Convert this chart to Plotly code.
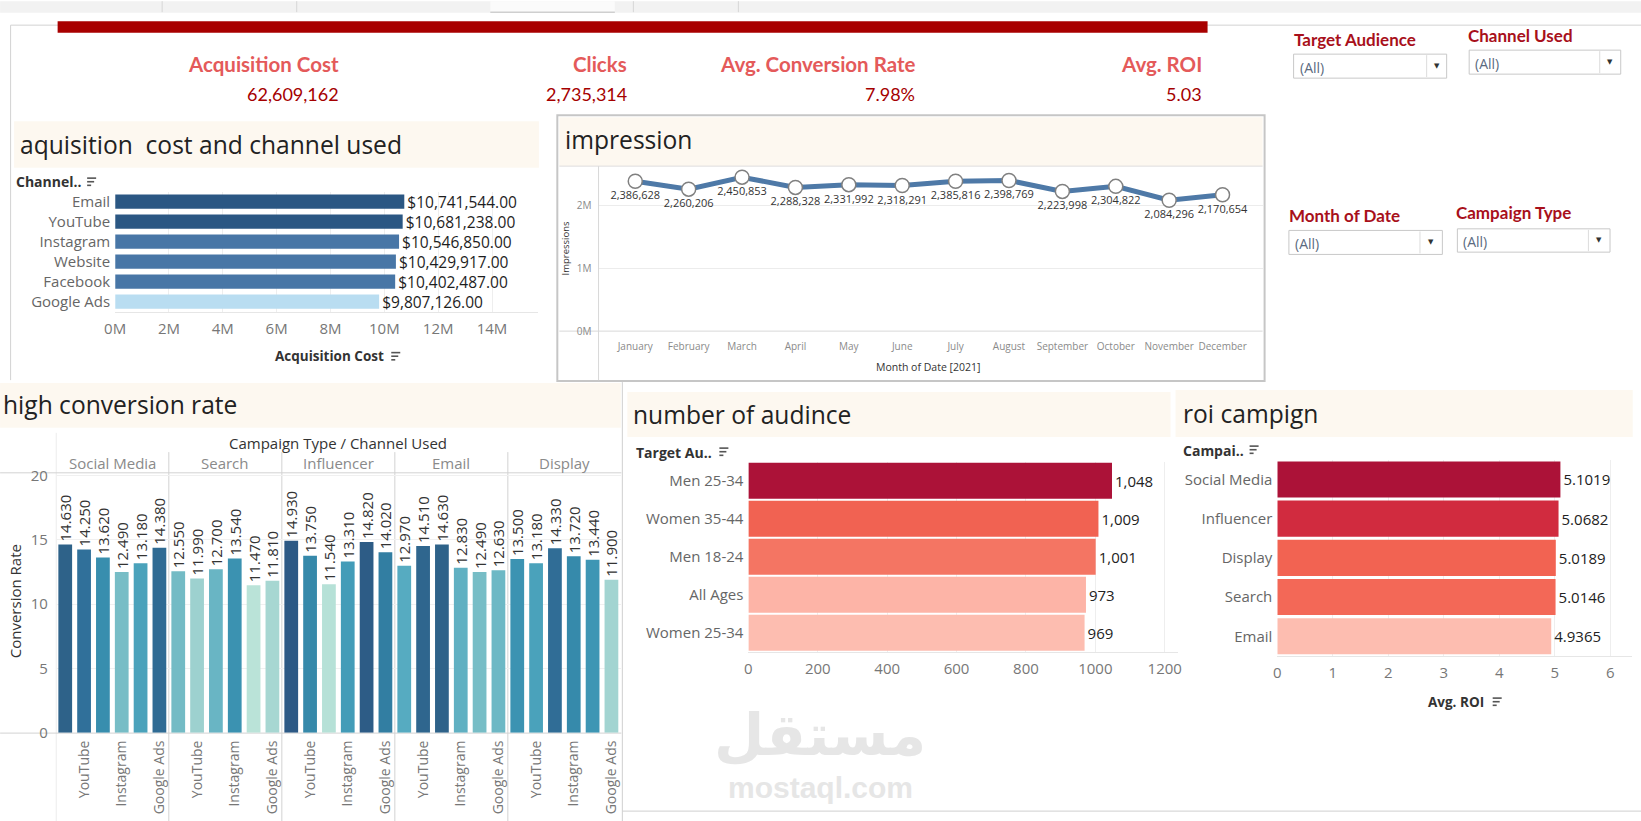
import plotly.graph_objects as go

# target canvas (reference pixels)
W, H = 1641, 821
# measured page transform of the viewer: screen = S * (O + figure_px)
SX, SY = 0.9905, 0.9796
OXF, OYF = 11.0, 7.0
FW, FH = 1646, 831

# ---------------- data ----------------
kpi_titles = ["Acquisition Cost", "Clicks", "Avg. Conversion Rate", "Avg. ROI"]
kpi_values = ["62,609,162", "2,735,314", "7.98%", "5.03"]

filter_labels = ["Target Audience", "Channel Used", "Month of Date", "Campaign Type"]
filter_values = ["(All)", "(All)", "(All)", "(All)"]

channels = ["Email", "YouTube", "Instagram", "Website", "Facebook", "Google Ads"]
acq_cost = [10741544, 10681238, 10546850, 10429917, 10402487, 9807126]
acq_ticks = [0, 2e6, 4e6, 6e6, 8e6, 10e6, 12e6, 14e6]
acq_tick_labels = ["0M", "2M", "4M", "6M", "8M", "10M", "12M", "14M"]

months = ["January", "February", "March", "April", "May", "June", "July",
          "August", "September", "October", "November", "December"]
impressions = [2386628, 2260206, 2450853, 2288328, 2331992, 2318291,
               2385816, 2398769, 2223998, 2304822, 2084296, 2170654]
imp_ticks = [0, 1e6, 2e6]
imp_tick_labels = ["0M", "1M", "2M"]

campaigns = ["Social Media", "Search", "Influencer", "Email", "Display"]
conv_channels = ["Email", "YouTube", "Facebook", "Instagram", "Website", "Google Ads"]
conv_social = [14.630, 14.250, 13.620, 12.490, 13.180, 14.380]
conv_search = [12.550, 11.990, 12.700, 13.540, 11.470, 11.810]
conv_influencer = [14.930, 13.750, 11.540, 13.310, 14.820, 14.020]
conv_email = [12.970, 14.510, 14.630, 12.830, 12.490, 12.630]
conv_display = [13.500, 13.180, 14.330, 13.720, 13.440, 11.900]
conv_shown_labels = {1: "YouTube", 3: "Instagram", 5: "Google Ads"}

audiences = ["Men 25-34", "Women 35-44", "Men 18-24", "All Ages", "Women 25-34"]
audience_counts = [1048, 1009, 1001, 973, 969]

roi_campaigns = ["Social Media", "Influencer", "Display", "Search", "Email"]
roi_values = [5.1019, 5.0682, 5.0189, 5.0146, 4.9365]

# ---------------- helpers ----------------
FONT = "Open Sans"
KFONT = "Lato"
GRAY = "#777777"
DARK = "#333333"
CREAM = "#fdf8f0"


def X(p):
    return (p / SX - OXF) / FW


def Y(p):
    return 1 - (p / SY - OYF) / FH


shapes = []
anns = []


def rect(x0, y0, x1, y1, fill=None, line=None, lw=1, layer="below"):
    shapes.append(dict(type="rect", xref="paper", yref="paper",
                       x0=X(x0), x1=X(x1), y0=Y(y0), y1=Y(y1),
                       fillcolor=fill if fill else "rgba(0,0,0,0)",
                       line=dict(color=line if line else "rgba(0,0,0,0)", width=lw if line else 0),
                       layer=layer))


def hline(x0, x1, y, color="#d4d4d4", lw=1, layer="below"):
    shapes.append(dict(type="line", xref="paper", yref="paper",
                       x0=X(x0), x1=X(x1), y0=Y(y), y1=Y(y),
                       line=dict(color=color, width=lw), layer=layer))


def vline(x, y0, y1, color="#d4d4d4", lw=1, layer="below", xref="paper"):
    shapes.append(dict(type="line", xref=xref, yref="paper",
                       x0=X(x) if xref == "paper" else x, x1=X(x) if xref == "paper" else x,
                       y0=Y(y0), y1=Y(y1),
                       line=dict(color=color, width=lw), layer=layer))


def text(t, x, y, size, color=DARK, anchor="left", weight="normal", family=FONT,
         angle=0, xref="paper"):
    anns.append(dict(text=t, x=X(x) if xref == "paper" else x, y=Y(y),
                     xref=xref, yref="paper", showarrow=False,
                     xanchor=anchor, yanchor="middle", textangle=angle,
                     font=dict(family=family, size=size, color=color, weight=weight)))


def sort_icon(x, y):
    for i, L in enumerate([9, 7, 4]):
        hline(x, x + L, y + i * 3.6, color="#555555", lw=1.6, layer="above")


# ---------------- background decorations ----------------
rect(0, 0, W, 11.7, fill="#f2f2f2")
rect(490, 0, 614.5, 11.7, fill="#fbfbfb")
hline(490, 614.5, 11, color="#cfcfcf", lw=1.5)
for xx in [162, 296.5, 633, 738]:
    vline(xx, 0, 11, color="#d6d6d6")

hline(10.5, W, 24, color="#d2d2d2")
vline(10.5, 24, 379, color="#d2d2d2")
rect(57.5, 20, 1207, 31.5, fill="#a80000")

# title bands
rect(14, 120, 538.6, 166.7, fill=CREAM)
rect(559, 116, 1262, 165, fill=CREAM)
rect(0, 382, 620.5, 426.7, fill=CREAM)
rect(627, 391, 1170, 436, fill=CREAM)
rect(1175, 389, 1632, 436, fill=CREAM)

# impression box
rect(557, 114, 1264, 380, line="#c6c6c6", lw=2)
hline(559, 1262, 165, color="#dedede")
vline(598.2, 165, 379, color="#d8d8d8")
hline(559, 1262, 330, color="#d8d8d8")

# conversion panel lines
hline(0, 621, 471.7, color="#d2d2d2")
hline(0, 621, 732, color="#d2d2d2")
vline(-0.5, 431.7, 821, color="#d2d2d2", xref="x3")
for k in range(1, 5):
    vline(k * 6 - 0.5, 451, 821, color="#d2d2d2", xref="x3")

# bottom-right borders
vline(622, 381, 821, color="#cfcfcf")
hline(622, W, 810, color="#cfcfcf")

# ---------------- KPI ----------------
kpi_x = [341, 629, 917, 1203]
for t, v, xx in zip(kpi_titles, kpi_values, kpi_x):
    text(t, xx, 63, 20.5, color="#e45a5a", anchor="right", weight="bold", family=KFONT)
    text(v, xx, 93, 18, color="#a50000", anchor="right", family=KFONT)

# ---------------- filters ----------------
filter_pos = [  # label x, label y, box x0, y0, x1, y1, divider
    (1291, 38, 1293, 53, 1446, 77, 1426),
    (1465, 34, 1468.5, 49, 1620, 73, 1599),
    (1286, 214, 1288.3, 229.3, 1441.7, 253.3, 1419.3),
    (1453, 211.7, 1456.7, 227.7, 1609.3, 251, 1587.7),
]
for lab, val, (lx, ly, bx0, by0, bx1, by1, dv) in zip(filter_labels, filter_values, filter_pos):
    text(lab, lx, ly, 17, color="#a8101b", weight="bold", family=KFONT)
    rect(bx0, by0, bx1, by1, fill="white", line="#c8c8c8", lw=1)
    vline(dv, by0 + 1, by1 - 1, color="#dcdcdc")
    text(val, bx0 + 4, (by0 + by1) / 2 + 1, 14, color="#5b6a80", family=FONT)
    text("▼", (dv + bx1) / 2, (by0 + by1) / 2, 7, color="#333333", anchor="center",
         family="DejaVu Sans")

# ---------------- titles ----------------
text("aquisition\u00a0 cost and channel used", 18, 143, 24.6, color="#222222")
text("impression", 563, 138, 24.6, color="#222222")
text("high conversion rate", 1, 403, 24.6, color="#222222")
text("number of audince", 631, 413, 24.6, color="#222222")
text("roi campign", 1180, 412, 24.6, color="#222222")

# headers / axis titles
text("Channel..", 14, 180, 14, weight="bold")
sort_icon(87, 177)
text("Acquisition Cost", 386, 355, 13.5, anchor="right", weight="bold")
sort_icon(391, 351.5)
text("Target Au..", 634, 451, 14, weight="bold")
sort_icon(719, 447)
text("Campai..", 1180, 449, 14, weight="bold")
sort_icon(1249, 445)
text("Avg. ROI", 1485, 701, 13.5, anchor="right", weight="bold")
sort_icon(1492, 697)

text("Impressions", 565, 247, 9.5, angle=-90, anchor="center")
text("Month of Date [2021]", 928, 366, 10.5, anchor="center")

text("Campaign Type / Channel Used", 338, 441.7, 15, anchor="center")
for i, c in enumerate(campaigns):
    text(c, i * 6 + 2.5, 461.7, 15, color="#8a8a8a", anchor="center", xref="x3")
text("Conversion Rate", 15, 600, 15, angle=-90, anchor="center")

# watermark
text("مستقل", 820, 734, 58, color="#e6e6e6", anchor="center", weight="bold", family="DejaVu Sans")
text("mostaql.com", 820, 786, 30, color="#e6e6e6", anchor="center", weight="bold",
     family="Liberation Sans")

# ---------------- traces ----------------
fig = go.Figure()

acq_scale = [[0, "#b9ddf1"], [0.2, "#b9ddf1"], [0.2, "#8fbbd9"], [0.4, "#8fbbd9"],
             [0.4, "#6798c1"], [0.6, "#6798c1"], [0.6, "#4876a6"], [0.8, "#4876a6"],
             [0.8, "#2b5783"], [1, "#2b5783"]]
fig.add_trace(go.Bar(
    x=acq_cost, y=channels, orientation="h", xaxis="x", yaxis="y", width=0.72,
    marker=dict(color=acq_cost, colorscale=acq_scale, cmin=min(acq_cost), cmax=max(acq_cost),
                line=dict(width=0)),
    texttemplate="$%{x:,.2f}", textposition="outside", cliponaxis=False, constraintext="none",
    textfont=dict(family=FONT, size=15.5, color="#1e1e1e"), hoverinfo="skip"))

fig.add_trace(go.Scatter(
    x=months, y=impressions, xaxis="x2", yaxis="y2", mode="lines+markers+text",
    line=dict(color="#4e79a7", width=5),
    marker=dict(size=14, color="white", line=dict(color="#808080", width=1.5)),
    texttemplate="%{y:,}", textposition="bottom center", cliponaxis=False,
    textfont=dict(family=FONT, size=11, color="#333333"), hoverinfo="skip"))

conv_all = [conv_social, conv_search, conv_influencer, conv_email, conv_display]
conv_x, conv_y, conv_names = [], [], []
for i, vals in enumerate(conv_all):
    for j, v in enumerate(vals):
        conv_x.append(i * len(conv_channels) + j)
        conv_y.append(v)
        conv_names.append(campaigns[i] + " / " + conv_channels[j])
conv_scale = [[0, "#bae3d8"], [0.15, "#9dd1cf"], [0.295, "#77bdc6"], [0.434, "#56abc1"],
              [0.532, "#439cb8"], [0.621, "#388eae"], [0.737, "#327ea2"], [0.803, "#30709a"],
              [0.913, "#2e6289"], [1, "#2c5985"]]
fig.add_trace(go.Bar(
    x=conv_x, y=conv_y, xaxis="x3", yaxis="y3", width=0.73, hovertext=conv_names,
    marker=dict(color=conv_y, colorscale=conv_scale, cmin=min(conv_y), cmax=max(conv_y),
                line=dict(width=0)),
    texttemplate="%{y:.3f}", textposition="outside", textangle=-90, constraintext="none",
    cliponaxis=False, textfont=dict(family=FONT, size=15, color="#333333"), hoverinfo="skip"))

red_scale = [[0, "#fdbdb0"], [0.05, "#fdb4a7"], [0.2, "#fa9a8a"], [0.4, "#f47664"],
             [0.5, "#f26352"], [0.8, "#d12a3f"], [1, "#ac1238"]]
fig.add_trace(go.Bar(
    x=audience_counts, y=audiences, orientation="h", xaxis="x4", yaxis="y4", width=0.95,
    marker=dict(color=audience_counts, colorscale=red_scale, cmin=min(audience_counts),
                cmax=max(audience_counts), line=dict(width=0)),
    texttemplate="%{x:,}", textposition="outside", cliponaxis=False, constraintext="none",
    textfont=dict(family=FONT, size=15, color="#222222"), hoverinfo="skip"))

fig.add_trace(go.Bar(
    x=roi_values, y=roi_campaigns, orientation="h", xaxis="x5", yaxis="y5", width=0.92,
    marker=dict(color=roi_values, colorscale=red_scale, cmin=min(roi_values),
                cmax=max(roi_values), line=dict(width=0)),
    texttemplate="%{x:.4f}", textposition="outside", cliponaxis=False, constraintext="none",
    textfont=dict(family=FONT, size=15, color="#222222"), hoverinfo="skip"))

# ---------------- axes ----------------
tick_font = dict(family=FONT, size=15, color=GRAY)
common_x = dict(showgrid=True, gridcolor="#eeeeee", zeroline=False, showline=True,
                linecolor="#e6e6e6", ticks="", fixedrange=True)
common_ycat = dict(type="category", showgrid=False, zeroline=False, showline=False, ticks="",
                   fixedrange=True, tickfont=dict(family=FONT, size=15, color="#666666"),
                   ticklabelstandoff=4)

conv_tickvals = [i * 6 + j for i in range(len(campaigns)) for j in conv_shown_labels]
conv_ticktext = [conv_shown_labels[j] for i in range(len(campaigns)) for j in conv_shown_labels]

fig.update_layout(
    width=FW, height=FH, margin=dict(l=0, r=0, t=0, b=0),
    paper_bgcolor="white", plot_bgcolor="rgba(0,0,0,0)", showlegend=False,
    hovermode=False, font=dict(family=FONT), shapes=shapes, annotations=anns,
    xaxis=dict(domain=[X(115), X(538)], range=[0, 15.72e6], anchor="y",
               tickvals=acq_ticks, ticktext=acq_tick_labels, tickfont=tick_font,
               ticklabelstandoff=3, **common_x),
    yaxis=dict(domain=[Y(310.5), Y(190.5)], anchor="x", categoryorder="array",
               categoryarray=channels, range=[5.5, -0.5], **common_ycat),
    xaxis2=dict(domain=[X(598.2), X(1262)], anchor="y2", type="category",
                categoryorder="array", categoryarray=months, range=[-0.688, 11.75],
                showgrid=False, zeroline=False, showline=False, ticks="", fixedrange=True,
                tickfont=dict(family=FONT, size=10, color="#8a8a8a"), ticklabelstandoff=8),
    yaxis2=dict(domain=[Y(330), Y(165)], anchor="x2", range=[0, 2.627e6],
                tickvals=imp_ticks, ticktext=imp_tick_labels, showgrid=True,
                gridcolor="#ececec", zeroline=False, showline=False, ticks="", fixedrange=True,
                tickfont=dict(family=FONT, size=10, color="#8a8a8a"), ticklabelstandoff=6),
    xaxis3=dict(domain=[X(55.7), X(620.5)], anchor="y3", range=[-0.5, 29.5],
                tickvals=conv_tickvals, ticktext=conv_ticktext, tickangle=-90,
                showgrid=False, zeroline=False, showline=False, ticks="", fixedrange=True,
                tickfont=dict(family=FONT, size=14, color=GRAY), ticklabelstandoff=4),
    yaxis3=dict(domain=[Y(731.7), Y(471.7)], anchor="x3", range=[0, 20.2],
                tickvals=[0, 5, 10, 15, 20], showgrid=True, gridcolor="#f0f0f0",
                zeroline=False, showline=False, ticks="", fixedrange=True,
                tickfont=tick_font, ticklabelstandoff=7),
    xaxis4=dict(domain=[X(748), X(1177)], anchor="y4", range=[0, 1237], dtick=200,
                tickfont=tick_font, ticklabelstandoff=3, **common_x),
    yaxis4=dict(domain=[Y(650.7), Y(460.7)], anchor="x4", categoryorder="array",
                categoryarray=audiences, range=[4.5, -0.5], **common_ycat),
    xaxis5=dict(domain=[X(1276.7), X(1631.7)], anchor="y5", range=[0, 6.4], dtick=1,
                tickfont=tick_font, ticklabelstandoff=3, **common_x),
    yaxis5=dict(domain=[Y(654.8), Y(458.7)], anchor="x5", categoryorder="array",
                categoryarray=roi_campaigns, range=[4.5, -0.5], **common_ycat),
)

fig.write_html("out.html", config={"displayModeBar": False, "staticPlot": True})
